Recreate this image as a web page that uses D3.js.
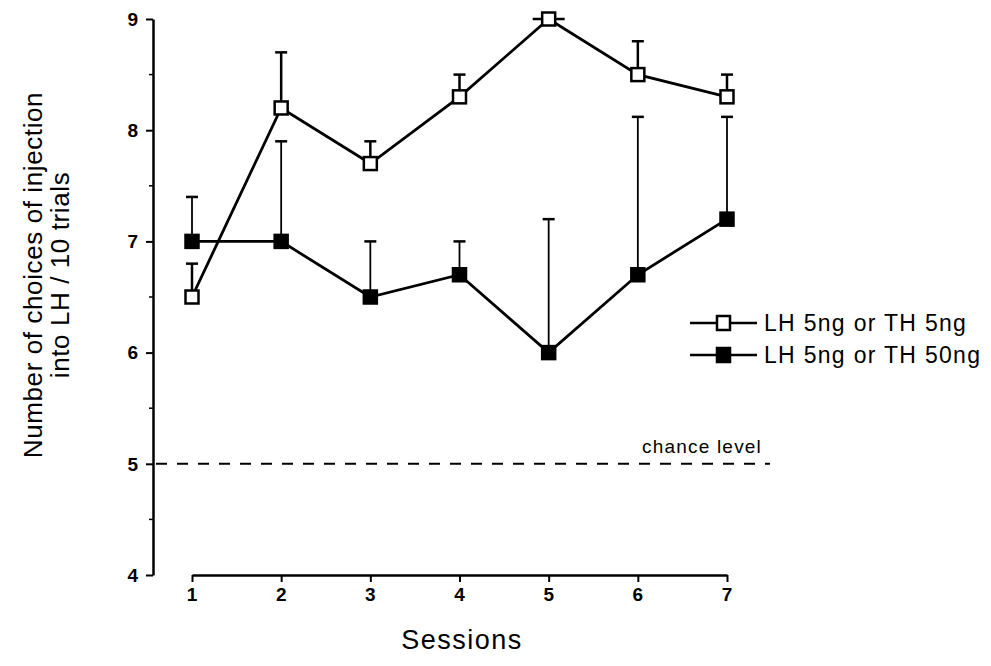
<!DOCTYPE html>
<html><head><meta charset="utf-8">
<script src="https://cdn.jsdelivr.net/npm/d3@7"></script>
<style>body{margin:0;background:#fff}svg{display:block}text{font-family:"Liberation Sans",Arial,sans-serif;fill:#000}</style>
</head><body>
<svg id="c" width="991" height="666"></svg>
<script>
const sessions = [1,2,3,4,5,6,7];
const openMean = [6.5, 8.2, 7.7, 8.3, 9.0, 8.5, 8.3];
const openErr  = [6.8, 8.7, 7.9, 8.5, 9.0, 8.8, 8.5];
const filledMean = [7.0, 7.0, 6.5, 6.7, 6.0, 6.7, 7.2];
const filledErr  = [7.4, 7.9, 7.0, 7.0, 7.2, 8.12, 8.12];
const yTicks = [4,5,6,7,8,9];
const yMinor = [4.5,5.5,6.5,7.5,8.5];
const seriesNames = ["LH 5ng or TH 5ng", "LH 5ng or TH 50ng"];
const chance = 5;

const svg = d3.select("#c");
const x = d3.scaleLinear().domain([1,7]).range([192,727]);
const y = d3.scaleLinear().domain([4,9]).range([575,19]);

// y axis (ticks only from d3 axis; labels drawn from the same scale)
const yAxis = d3.axisLeft(y).tickValues(yTicks).tickSize(7).tickSizeOuter(0).tickFormat("");
const gy = svg.append("g").attr("transform","translate(153,0)").call(yAxis);
gy.select(".domain").attr("stroke","#000").attr("stroke-width",2.5);
gy.selectAll(".tick line").attr("stroke-width",2);
gy.selectAll(".minor").data(yMinor).enter().append("line")
  .attr("x1",-4).attr("x2",0).attr("y1",d=>y(d)).attr("y2",d=>y(d)).attr("stroke","#000").attr("stroke-width",1.5);
svg.append("g").selectAll("text").data(yTicks).enter().append("text")
  .attr("x",138).attr("y",d=>y(d)).attr("dy","0.36em").attr("text-anchor","end")
  .style("font-size","19px").style("font-weight","bold").text(d=>d);

// x axis
const xAxis = d3.axisBottom(x).tickValues(sessions).tickSize(7).tickSizeOuter(0).tickFormat("");
const gx = svg.append("g").attr("transform","translate(0,575)").call(xAxis);
gx.select(".domain").attr("stroke","#000").attr("stroke-width",2.5);
gx.selectAll(".tick line").attr("stroke-width",2);
svg.append("g").selectAll("text").data(sessions).enter().append("text")
  .attr("x",d=>x(d)).attr("y",601).attr("text-anchor","middle")
  .style("font-size","19px").style("font-weight","bold").text(d=>d);

// chance line
svg.append("line").attr("x1",156).attr("x2",770).attr("y1",y(chance)).attr("y2",y(chance))
  .attr("stroke","#000").attr("stroke-width",2).attr("stroke-dasharray","11,10");
svg.append("text").attr("x",642).attr("y",453).style("font-size","19px").style("letter-spacing","1.2px").text("chance level");

// axis titles
svg.append("text").attr("x",462).attr("y",649).attr("text-anchor","middle").style("font-size","27px").style("letter-spacing","1.5px").text("Sessions");
const yt = svg.append("text").attr("transform","translate(0,275) rotate(-90)").attr("text-anchor","middle").style("font-size","26px").style("letter-spacing","0.6px");
yt.append("tspan").attr("x",0).attr("y",42).text("Number of choices of injection");
yt.append("tspan").attr("x",0).attr("y",69).text("into LH / 10 trials");

const line = d3.line().x((d,i)=>x(sessions[i])).y(d=>y(d));

function drawSeries(mean, err, fill, sw){
  const g = svg.append("g");
  g.selectAll(".eb").data(mean).enter().append("line")
    .attr("x1",(d,i)=>x(sessions[i])).attr("x2",(d,i)=>x(sessions[i]))
    .attr("y1",d=>y(d)).attr("y2",(d,i)=>y(err[i])).attr("stroke","#000").attr("stroke-width",sw);
  g.selectAll(".cap").data(err).enter().append("line")
    .attr("x1",(d,i)=>x(sessions[i])-(err[i]===mean[i]?16:6)).attr("x2",(d,i)=>x(sessions[i])+(err[i]===mean[i]?16:6))
    .attr("y1",d=>y(d)).attr("y2",d=>y(d)).attr("stroke","#000").attr("stroke-width",2.5);
  g.append("path").datum(mean).attr("d",line).attr("fill","none").attr("stroke","#000").attr("stroke-width",2.8);
  g.selectAll(".m").data(mean).enter().append("rect")
    .attr("x",(d,i)=>x(sessions[i])-6.5).attr("y",d=>y(d)-6.5).attr("width",13).attr("height",13)
    .attr("fill",fill).attr("stroke","#000").attr("stroke-width",2.5);
}
drawSeries(filledMean, filledErr, "#000", 1.8);
drawSeries(openMean, openErr, "#fff", 2.5);

// legend
const lg = svg.append("g");
[0,1].forEach(k=>{
  const ly = 323 + k*32;
  lg.append("line").attr("x1",690).attr("x2",757).attr("y1",ly).attr("y2",ly).attr("stroke","#000").attr("stroke-width",2.5);
  lg.append("rect").attr("x",717).attr("y",ly-7).attr("width",13).attr("height",14)
    .attr("fill",k===0?"#fff":"#000").attr("stroke","#000").attr("stroke-width",2.5);
  lg.append("text").attr("x",764).attr("y",ly+8).style("font-size","23px").style("letter-spacing","1.3px").text(seriesNames[k]);
});
</script>
</body></html>
